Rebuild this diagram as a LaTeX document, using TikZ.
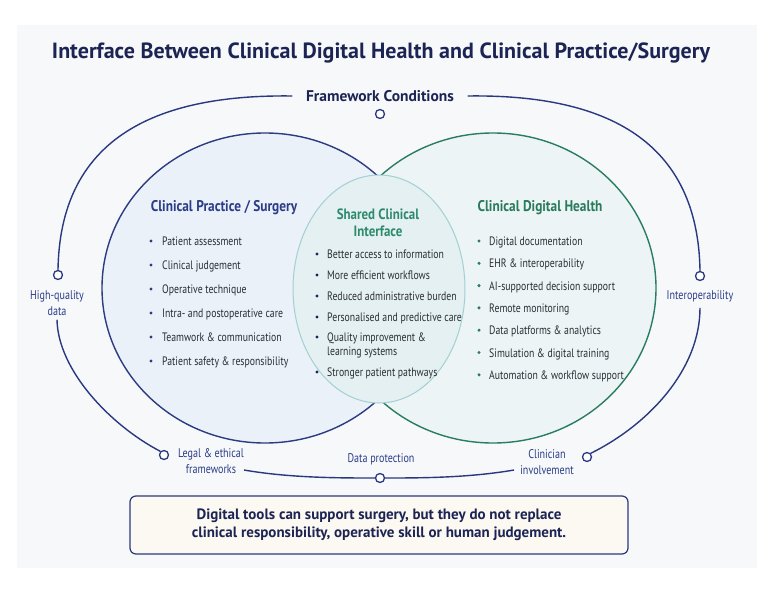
\documentclass[tikz,border=0pt]{standalone}
\usepackage{fontspec}
\setmainfont{PT Sans}
\newfontfamily\condfont{PT Sans}[FakeStretch=0.8]
\newfontfamily\semifont{PT Sans}[FakeStretch=0.86]
\definecolor{navy}{HTML}{1C2454}
\definecolor{arcblue}{HTML}{2A3880}
\definecolor{blueline}{HTML}{2C3C80}
\definecolor{greenline}{HTML}{2A7D62}
\definecolor{tealline}{HTML}{A3D0D2}
\definecolor{lfill}{HTML}{EAF1F8}
\definecolor{rfill}{HTML}{ECF4F5}
\definecolor{cfill}{HTML}{E4F0F2}
\definecolor{panel}{HTML}{F6F8FA}
\definecolor{boxfill}{HTML}{FCF8F2}
\definecolor{bodytext}{HTML}{2A2E34}
\definecolor{lblue}{HTML}{2B3D88}
\definecolor{dgreen}{HTML}{2A7A5C}
\definecolor{cgreen}{HTML}{2E8A6C}
\begin{document}
\begin{tikzpicture}[x=1pt,y=-1pt,
  arc/.style={draw=arcblue, line width=1.4pt},
  dot/.style={circle, draw=arcblue, fill=white, line width=1.3pt, minimum size=9pt, inner sep=0pt},
  lab/.style={text=lblue, font=\condfont\fontsize{12.6}{16}\selectfont, align=center, inner sep=2pt},
  item/.style={text=bodytext, font=\condfont\fontsize{12.2}{13}\selectfont, inner sep=0pt, anchor=base west},
  ctitle/.style={font=\semifont\fontsize{15.5}{17}\selectfont\bfseries, align=center, inner sep=0pt}]
\useasboundingbox (0,0) rectangle (769,589);
\fill[panel] (17,25) rectangle (757,568);

% title
\node[text=navy, font=\fontsize{22}{26}\selectfont\bfseries, inner sep=0pt] (title) at (381,53)
  {Interface Between Clinical Digital Health and Clinical Practice/Surgery};

% main circles
\draw[fill=lfill, draw=blueline, line width=1.4pt] (265,288) ellipse [x radius=163pt, y radius=155pt];
\draw[fill=rfill, draw=greenline, line width=1.4pt] (493,288) ellipse [x radius=163pt, y radius=155pt];
\draw[fill=cfill, draw=tealline, line width=1pt] (379,289) ellipse [x radius=86pt, y radius=114pt];

% framework labels and markers
\node[text=navy, font=\fontsize{15.5}{17}\selectfont\bfseries, minimum width=175pt, inner sep=0pt] (fw) at (380,96) {Framework Conditions};
\node[dot] (fwdot) at (380,114) {};
\node[dot] (hqdot) at (58,275) {};
\node[lab, inner ysep=4pt] (hqlab) at (57,303) {High-quality\\data};
\node[dot] (legaldot) at (164,455) {};
\node[lab] (legallab) at (211,461) {Legal \& ethical\\frameworks};
\node[lab] (dplab) at (381,459) {Data protection};
\node[dot] (dpdot) at (380,478) {};
\node[lab] (clinlab) at (547,462) {Clinician\\involvement};
\node[dot] (clindot) at (587,457) {};
\node[dot] (iodot) at (700,276) {};
\node[lab, inner ysep=6pt] (iolab) at (700,296) {Interoperability};
\coordinate (bl) at (244,470);
\coordinate (br) at (514,470);

% framework arcs
\draw[arc] (fw.west) .. controls (150,94) and (60,142) .. (hqdot.north);
\draw[arc] (hqlab.south) .. controls (58,370) and (110,425) .. (legaldot.north west);
\draw[arc] (fw.east) .. controls (608,94) and (698,142) .. (iodot.north);
\draw[arc] (iolab.south) .. controls (700,370) and (648,425) .. (clindot.north east);
\draw[arc] (bl) .. controls (290,478) and (340,478) .. (dpdot.west);
\draw[arc] (dpdot.east) .. controls (418,478) and (468,478) .. (br);

% circle titles
\node[ctitle, text=lblue] (ltitle) at (224,208) {Clinical Practice / Surgery};
\node[ctitle, text=dgreen] (rtitle) at (540,208) {Clinical Digital Health};
\node[ctitle, text=cgreen, font=\semifont\fontsize{15}{17}\selectfont\bfseries] (ctitle) at (378,223) {Shared Clinical\\Interface};

% left list
\foreach \t [count=\i] in {Patient assessment, Clinical judgement, Operative technique,
  Intra- and postoperative care, Teamwork \& communication, Patient safety \& responsibility}{
  \fill[blueline] (151,{217+24*\i}) circle (1.7pt);
  \node[item] (L\i) at (162,{221.5+24*\i}) {\t};
}

% centre list
\fill[navy] (317,254) circle (1.6pt);
\node[item] (C1) at (327,258.5) {Better access to information};
\fill[navy] (317,275) circle (1.6pt);
\node[item] (C2) at (327,279.5) {More efficient workflows};
\fill[navy] (317,296) circle (1.6pt);
\node[item] (C3) at (327,300.5) {Reduced administrative burden};
\fill[navy] (317,317) circle (1.6pt);
\node[item] (C4) at (327,321.5) {Personalised and predictive care};
\fill[navy] (317,337) circle (1.6pt);
\node[item] (C5) at (327,341.5) {Quality improvement \&};
\node[item] (C5b) at (327,355.5) {learning systems};
\fill[navy] (317,372) circle (1.6pt);
\node[item] (C6) at (327,376.5) {Stronger patient pathways};

% right list
\foreach \t [count=\i] in {Digital documentation, EHR \& interoperability, AI-supported decision support,
  Remote monitoring, Data platforms \& analytics, Simulation \& digital training, Automation \& workflow support}{
  \fill[greenline] (479,{218.7+22.3*\i}) circle (1.7pt);
  \node[item] (R\i) at (489,{223.2+22.3*\i}) {\t};
}

% message box
\node[draw=arcblue, fill=boxfill, line width=1.2pt, rounded corners=6pt,
  minimum width=498pt, minimum height=58pt, align=center, text=navy,
  font=\fontsize{15}{18}\selectfont\bfseries] (msg) at (379,525)
  {Digital tools can support surgery, but they do not replace\\clinical responsibility, operative skill or human judgement.};
\end{tikzpicture}
\end{document}
